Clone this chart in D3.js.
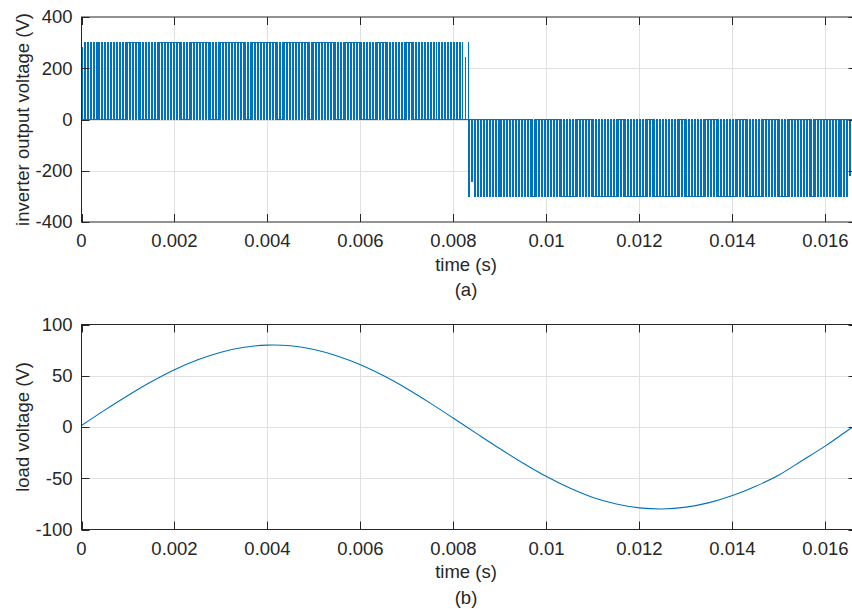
<!doctype html>
<html>
<head>
<meta charset="utf-8">
<script src="https://d3js.org/d3.v7.min.js"></script>
<style>
    body { margin: 0; background: #fff; }
    svg text { font-family: 'Liberation Sans', Arial, sans-serif; fill: #262626; }
</style>
</head>
<body>
<div id="graph"></div>
<script>
// time axis shared by both panels
const timeMax = 0.016667;
const timeTicks = [0, 0.002, 0.004, 0.006, 0.008, 0.01, 0.012, 0.014, 0.016];
const timeTickLabels = ['0', '0.002', '0.004', '0.006', '0.008', '0.01', '0.012', '0.014', '0.016'];

// (a) inverter output voltage: pulse train, one level per half cycle
const invTicks = [-400, -200, 0, 200, 400];
const dcLevels = [300, -300];
const halfStarts = [0, 0.008333];
const halfEnds = [0.008333, 0.016667];
const switchPeriod = 0.0000625;
const dutyBlock = 0.0005;
const dutyPos = [0.35, 0.4, 0.45, 0.5, 0.55, 0.55, 0.6, 0.6, 0.6, 0.6, 0.55, 0.55, 0.5, 0.45, 0.4, 0.3, 0.25];
const dutyNeg = [0.25, 0.35, 0.4, 0.45, 0.5, 0.55, 0.6, 0.6, 0.6, 0.6, 0.55, 0.55, 0.5, 0.45, 0.4, 0.35, 0.3];
const oddPulseTimes = [0.00003, 0.00825, 0.0084, 0.01653];
const oddPulseValues = [280, 242, -240, -220];

// (b) load voltage
const loadTicks = [-100, -50, 0, 50, 100];
const loadTime = [0, 0.0005, 0.001, 0.0015, 0.002, 0.0025, 0.003, 0.0035, 0.004, 0.0045,
    0.005, 0.0055, 0.006, 0.0065, 0.007, 0.0075, 0.008, 0.0085, 0.009, 0.0095,
    0.01, 0.0105, 0.011, 0.0115, 0.012, 0.0125, 0.013, 0.0135, 0.014, 0.0145,
    0.015, 0.0155, 0.016, 0.0165, 0.016667];
const loadVolt = [1.5, 16.5, 30.8, 44.1, 55.9, 65.6, 73.0, 77.8, 79.9, 79.2,
    75.6, 69.3, 60.7, 49.9, 37.3, 23.3, 8.5, -6.5, -21.3, -35.4,
    -48.4, -59.6, -68.8, -75.1, -78.9, -80.0, -78.2, -73.8, -66.9, -57.8,
    -46.8, -32.7, -18.4, -2.7, 1.5];

const W = 852, H = 609;
const left = 81.5, right = 856.5;
const blue = '#0072bd';
const fontSize = '18.5px';

const svg = d3.select('#graph')
    .append('svg')
    .attr('width', W)
    .attr('height', H);

const xScale = d3.scaleLinear().domain([0, timeMax]).range([left, right]);

function pulseTrain(h) {
    const duty = h === 0 ? dutyPos : dutyNeg;
    const pts = [[halfStarts[h], 0]];
    const n = Math.ceil((halfEnds[h] - halfStarts[h]) / switchPeriod);
    for (let k = 0; k < n; k++) {
        const t0 = halfStarts[h] + k * switchPeriod;
        const d = duty[Math.min(duty.length - 1, Math.floor((t0 - halfStarts[h]) / dutyBlock))];
        let v = dcLevels[h];
        oddPulseTimes.forEach((ot, i) => {
            if (Math.abs(ot - t0) < switchPeriod / 2) v = oddPulseValues[i];
        });
        const t1 = Math.min(t0 + d * switchPeriod, halfEnds[h]);
        pts.push([t0, 0], [t0, v], [t1, v], [t1, 0]);
    }
    pts.push([halfEnds[h], 0]);
    return pts;
}

function panel(id, top, bottom, yDomain, yTicks, yLabel, caption) {
    const yScale = d3.scaleLinear().domain(yDomain).range([bottom, top]);
    const g = svg.append('g');

    svg.append('clipPath').attr('id', 'clip-' + id)
        .append('rect')
        .attr('x', left).attr('y', top)
        .attr('width', right - left).attr('height', bottom - top);

    // grid
    g.append('g').selectAll('line.vx')
        .data(timeTicks.filter(t => t > 0))
        .enter().append('line')
        .attr('x1', d => Math.round(xScale(d)) + 0.5).attr('x2', d => Math.round(xScale(d)) + 0.5)
        .attr('y1', top).attr('y2', bottom)
        .attr('stroke', '#e0e0e0');
    g.append('g').selectAll('line.hy')
        .data(yTicks.slice(1, -1))
        .enter().append('line')
        .attr('x1', left).attr('x2', right)
        .attr('y1', d => Math.round(yScale(d)) + 0.5).attr('y2', d => Math.round(yScale(d)) + 0.5)
        .attr('stroke', '#e0e0e0');

    const plot = g.append('g').attr('clip-path', `url(#clip-${id})`);

    // box and inward ticks
    const box = g.append('g').attr('stroke', '#262626').attr('fill', 'none');
    box.append('rect')
        .attr('x', left).attr('y', top)
        .attr('width', right - left).attr('height', bottom - top);
    timeTicks.forEach(t => {
        const x = Math.round(xScale(t)) + 0.5;
        box.append('line').attr('x1', x).attr('x2', x).attr('y1', bottom).attr('y2', bottom - 8);
        box.append('line').attr('x1', x).attr('x2', x).attr('y1', top).attr('y2', top + 8);
    });
    yTicks.forEach(v => {
        const y = Math.round(yScale(v)) + 0.5;
        box.append('line').attr('x1', left).attr('x2', left + 8).attr('y1', y).attr('y2', y);
        box.append('line').attr('x1', right).attr('x2', right - 8).attr('y1', y).attr('y2', y);
    });

    // tick labels
    g.append('g').selectAll('text')
        .data(timeTicks)
        .enter().append('text')
        .attr('x', d => xScale(d))
        .attr('y', bottom + 25)
        .attr('text-anchor', 'middle')
        .style('font-size', fontSize)
        .text((d, i) => timeTickLabels[i]);
    g.append('g').selectAll('text')
        .data(yTicks)
        .enter().append('text')
        .attr('x', left - 9)
        .attr('y', d => yScale(d))
        .attr('dy', '0.35em')
        .attr('text-anchor', 'end')
        .style('font-size', fontSize)
        .text(d => d);

    g.append('text')
        .attr('transform', `translate(28.5,${(top + bottom) / 2}) rotate(-90)`)
        .attr('text-anchor', 'middle')
        .style('font-size', fontSize)
        .text(yLabel);
    g.append('text')
        .attr('x', 466).attr('y', bottom + 48.5)
        .attr('text-anchor', 'middle')
        .style('font-size', fontSize)
        .text('time (s)');
    g.append('text')
        .attr('x', 466).attr('y', bottom + 74)
        .attr('text-anchor', 'middle')
        .style('font-size', fontSize)
        .text(caption);

    return { plot, yScale };
}

const a = panel('a', 17, 222, [-400, 400], invTicks, 'inverter output voltage (V)', '(a)');
const lineA = d3.line().x(d => xScale(d[0])).y(d => a.yScale(d[1]));
[0, 1].forEach(h => {
    a.plot.append('path')
        .attr('d', lineA(pulseTrain(h)))
        .attr('fill', 'none')
        .attr('stroke', blue)
        .attr('stroke-width', 1)
        .attr('shape-rendering', 'crispEdges');
});

const b = panel('b', 324.5, 529.5, [-100, 100], loadTicks, 'load voltage (V)', '(b)');
const lineB = d3.line()
    .x((d, i) => xScale(loadTime[i]))
    .y(d => b.yScale(d))
    .curve(d3.curveCardinal);
b.plot.append('path')
    .attr('d', lineB(loadVolt))
    .attr('fill', 'none')
    .attr('stroke', blue)
    .attr('stroke-width', 1.1);
</script>
</body>
</html>
